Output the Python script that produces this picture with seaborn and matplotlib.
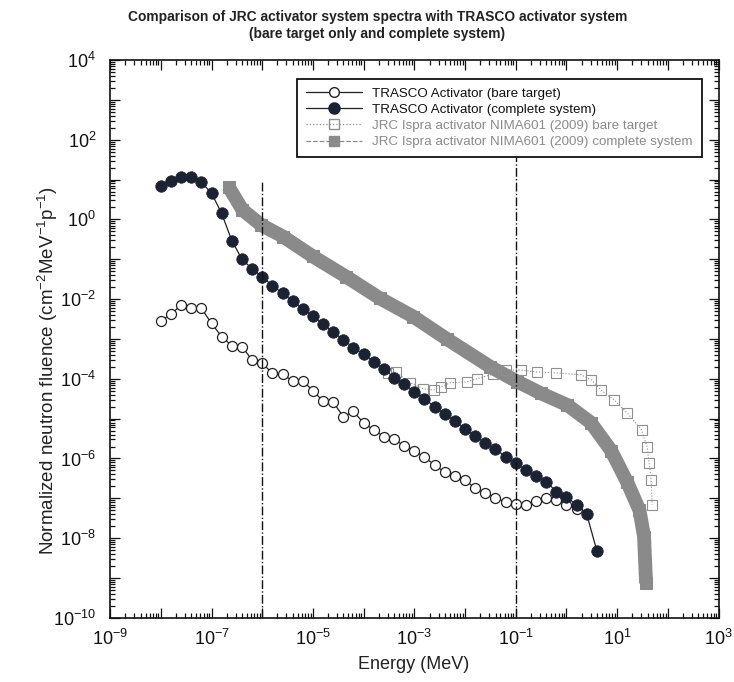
import numpy as np
import pandas as pd
import matplotlib
matplotlib.use("Agg")
import matplotlib.pyplot as plt
from matplotlib.lines import Line2D
from matplotlib.ticker import LogLocator, FuncFormatter, NullFormatter
import seaborn as sns

# ---------------- data (log10 values) ----------------
trasco_bare_logE = [-8.0, -7.8, -7.6, -7.4, -7.2, -7.0, -6.8, -6.6, -6.4, -6.2,
                    -6.0, -5.8, -5.6, -5.4, -5.2, -5.0, -4.8, -4.6, -4.4, -4.2,
                    -4.0, -3.8, -3.6, -3.4, -3.2, -3.0, -2.8, -2.6, -2.4, -2.2,
                    -2.0, -1.8, -1.6, -1.4, -1.2, -1.0, -0.8, -0.6, -0.4, -0.2,
                    0.0, 0.2]
trasco_bare_logF = [-2.54, -2.38, -2.15, -2.23, -2.23, -2.61, -2.94, -3.17, -3.19, -3.53,
                    -3.61, -3.86, -3.89, -4.05, -4.05, -4.30, -4.56, -4.59, -4.95, -4.82,
                    -5.11, -5.28, -5.45, -5.52, -5.68, -5.80, -5.97, -6.16, -6.35, -6.44,
                    -6.54, -6.75, -6.87, -6.98, -7.10, -7.14, -7.16, -7.06, -6.98, -7.04,
                    -7.16, -7.27]

trasco_full_logE = [-8.0, -7.8, -7.6, -7.4, -7.2, -7.0, -6.8, -6.6, -6.4, -6.2,
                    -6.0, -5.8, -5.6, -5.4, -5.2, -5.0, -4.8, -4.6, -4.4, -4.2,
                    -4.0, -3.8, -3.6, -3.4, -3.2, -3.0, -2.8, -2.6, -2.4, -2.2,
                    -2.0, -1.8, -1.6, -1.4, -1.2, -1.0, -0.8, -0.6, -0.4, -0.2,
                    0.0, 0.2, 0.4, 0.6]
trasco_full_logF = [0.85, 0.97, 1.06, 1.06, 0.93, 0.66, 0.15, -0.53, -1.00, -1.24,
                    -1.44, -1.66, -1.85, -2.06, -2.25, -2.42, -2.63, -2.83, -3.02, -3.22,
                    -3.38, -3.57, -3.75, -3.97, -4.14, -4.32, -4.50, -4.70, -4.89, -5.06,
                    -5.25, -5.43, -5.62, -5.77, -5.95, -6.12, -6.29, -6.43, -6.58, -6.83,
                    -6.97, -7.16, -7.40, -8.32]

jrc_bare_logE = [-3.51, -3.36, -3.08, -2.82, -2.62, -2.47, -2.29, -1.97, -1.77, -1.44,
                 -1.20, -0.90, -0.58, -0.21, 0.29, 0.49, 0.68, 0.94, 1.20, 1.48,
                 1.59, 1.63, 1.67, 1.69]
jrc_bare_logF = [-3.85, -3.83, -4.10, -4.25, -4.28, -4.20, -4.10, -4.08, -4.00, -3.88,
                 -3.78, -3.78, -3.83, -3.85, -3.90, -4.03, -4.28, -4.53, -4.86, -5.28,
                 -5.71, -6.11, -6.54, -7.16]

jrc_full_logE = [-6.66, -6.39, -6.02, -5.59, -5.00, -4.34, -3.68, -3.02, -2.36, -1.50,
                 -0.97, -0.51, 0.02, 0.48, 0.88, 1.20, 1.44, 1.53, 1.57]
jrc_full_logF = [0.81, 0.24, -0.14, -0.43, -0.93, -1.44, -1.98, -2.44, -3.00, -3.70,
                 -4.07, -4.36, -4.66, -5.10, -5.80, -6.60, -7.30, -7.96, -9.13]

vline_E = [1e-6, 1e-1]
vline_top = [10.0, 40.0]

labels = ["TRASCO Activator (bare target)",
          "TRASCO Activator (complete system)",
          "JRC Ispra activator NIMA601 (2009) bare target",
          "JRC Ispra activator NIMA601 (2009) complete system"]

title_text = ("Comparison of JRC activator system spectra with TRASCO activator system\n"
              "(bare target only and complete system)")


def frame(logE, logF):
    return pd.DataFrame({"E": 10.0 ** np.asarray(logE), "F": 10.0 ** np.asarray(logF)})


sns.set_theme(style="ticks")
plt.rcParams["font.family"] = ["Liberation Sans", "DejaVu Sans"]
plt.rcParams["mathtext.default"] = "regular"

fig = plt.figure(figsize=(7.34, 6.82), dpi=100)
ax = fig.add_axes([0.150, 0.094, 0.829, 0.818])
ax.set_xscale("log")
ax.set_yscale("log")

dark = "#1b2232"
grey = "#8a8a8a"
sq_grey = "#8f8f8f"

# JRC complete system: dense band of grey squares
df_jf = frame(jrc_full_logE, jrc_full_logF)
sns.lineplot(data=df_jf, x="E", y="F", ax=ax, estimator=None, sort=False,
             color=grey, linewidth=10, solid_capstyle="butt", solid_joinstyle="round",
             marker="s", markersize=8.5, markerfacecolor=grey, markeredgecolor=grey,
             zorder=2)

# JRC bare target: open dotted squares
df_jb = frame(jrc_bare_logE, jrc_bare_logF)
sns.lineplot(data=df_jb, x="E", y="F", ax=ax, estimator=None, sort=False,
             color=sq_grey, linewidth=0.8, linestyle=":",
             marker="s", markersize=7.5, markerfacecolor="none",
             markeredgecolor=sq_grey, markeredgewidth=0.8, zorder=2.5)

# TRASCO bare target: open circles
df_tb = frame(trasco_bare_logE, trasco_bare_logF)
sns.lineplot(data=df_tb, x="E", y="F", ax=ax, estimator=None, sort=False,
             color="#222222", linewidth=0.9,
             marker="o", markersize=7.2, markerfacecolor="white",
             markeredgecolor="#222222", markeredgewidth=0.9, zorder=3)

# TRASCO complete system: filled circles
df_tf = frame(trasco_full_logE, trasco_full_logF)
sns.lineplot(data=df_tf, x="E", y="F", ax=ax, estimator=None, sort=False,
             color="#222222", linewidth=0.9,
             marker="o", markersize=8.3, markerfacecolor=dark,
             markeredgecolor=dark, markeredgewidth=0.5, zorder=3.5)

ax.vlines(vline_E, 1e-10, vline_top, colors="#111111", linestyles="-.", linewidth=1.0, zorder=4)

ax.set_xlim(1e-9, 1e3)
ax.set_ylim(1e-10, 1e4)
ax.set_xlabel("")
ax.set_ylabel("")

for axis in (ax.xaxis, ax.yaxis):
    axis.set_major_locator(LogLocator(base=10, numticks=30))
    axis.set_minor_locator(LogLocator(base=10, subs=np.arange(2, 10), numticks=30))
    axis.set_minor_formatter(NullFormatter())


def fmt_x(v, _):
    e = int(round(np.log10(v)))
    return rf"$10^{{{e}}}$" if e % 2 != 0 else ""


def fmt_y(v, _):
    e = int(round(np.log10(v)))
    return rf"$10^{{{e}}}$" if e % 2 == 0 else ""


ax.xaxis.set_major_formatter(FuncFormatter(fmt_x))
ax.yaxis.set_major_formatter(FuncFormatter(fmt_y))
ax.tick_params(which="both", direction="in", top=True, right=True, colors="#111111",
               labelsize=13, width=0.9)
ax.tick_params(which="major", length=7)
ax.tick_params(which="minor", length=3.5)
ax.tick_params(axis="y", pad=10)
ax.tick_params(axis="x", pad=8)
for s in ax.spines.values():
    s.set_linewidth(1.2)
    s.set_color("#111111")

handles = [
    Line2D([], [], color="#222222", lw=0.9, marker="o", markersize=7,
           markerfacecolor="white", markeredgecolor="#222222"),
    Line2D([], [], color="#222222", lw=0.9, marker="o", markersize=8,
           markerfacecolor=dark, markeredgecolor=dark),
    Line2D([], [], color=sq_grey, lw=0.9, ls=":", marker="s", markersize=7,
           markerfacecolor="none", markeredgecolor=sq_grey),
    Line2D([], [], color=grey, lw=0.9, ls="--", marker="s", markersize=7,
           markerfacecolor=grey, markeredgecolor=grey),
]
leg = ax.legend(handles, labels, loc="upper right", bbox_to_anchor=(0.972, 0.966),
                borderaxespad=0, fontsize=9.6, frameon=True, fancybox=False,
                edgecolor="#111111", framealpha=1, handlelength=4.2,
                labelspacing=0.28, borderpad=0.65, handletextpad=0.8)
leg.get_frame().set_linewidth(1.3)
leg.set_zorder(10)
for i, t in enumerate(leg.get_texts()):
    t.set_color("#111111" if i < 2 else "#8a8a8a")

fig.text(0.514, 0.985, title_text, ha="center", va="top", fontsize=9.9,
         fontweight="bold", color="#222222", linespacing=1.25)
fig.text(0.563, 0.026, "Energy (MeV)", ha="center", va="center", fontsize=13, color="#222222")
fig.text(0.066, 0.457, r"Normalized neutron fluence (cm$^{-2}$MeV$^{-1}$p$^{-1}$)",
         ha="center", va="center", rotation=90, fontsize=13.5, color="#222222")

fig.savefig("out.png", dpi=100, facecolor="white")
